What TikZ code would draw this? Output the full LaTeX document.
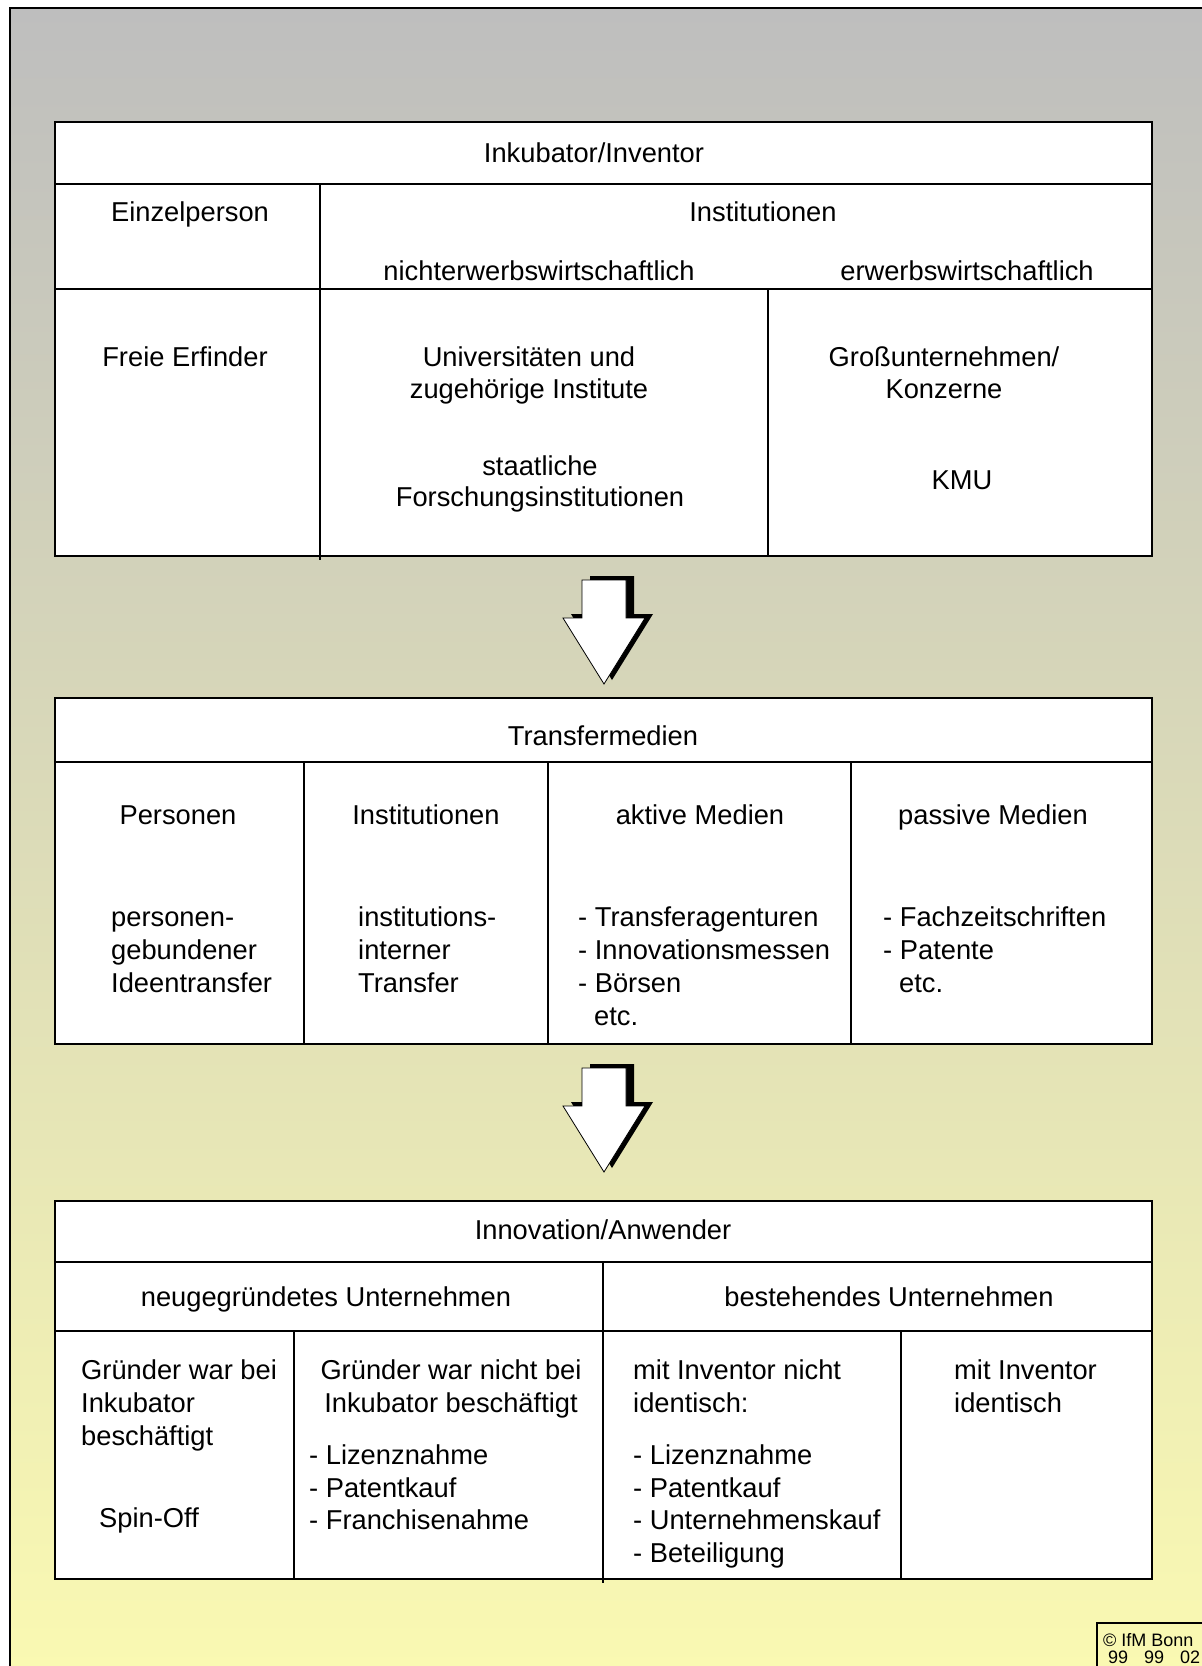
\documentclass[tikz,border=0pt]{standalone}
\usepackage{fontspec}
\setmainfont{Liberation Sans}
\definecolor{bgtop}{RGB}{190,190,190}
\definecolor{bgbot}{RGB}{250,249,178}
\begin{document}
\begin{tikzpicture}[x=1pt,y=-1pt,
  tbl/.style={draw=black,line width=2pt,fill=white},
  ln/.style={draw=black,line width=2pt},
  txt/.style={inner sep=0pt,anchor=base,font=\fontsize{27.3}{32}\selectfont},
  txtl/.style={txt,anchor=base west},
  smalltxt/.style={inner sep=0pt,anchor=base west,font=\fontsize{18}{20}\selectfont},
  bigarrow/.pic={
    \fill[black] (-14,-4) -- (30,-4) -- (30,34) -- (49,34) -- (8,100) -- (-33,34) -- (-14,34) -- cycle;
    \filldraw[fill=white,draw=black,line width=0.8pt] (-22,0) -- (22,0) -- (22,38) -- (41,38) -- (0,104) -- (-41,38) -- (-22,38) -- cycle;
  }]
\useasboundingbox (0,0) rectangle (1202,1666);
\fill[white] (0,0) rectangle (1202,1666);
\shade[top color=bgtop,bottom color=bgbot] (10,8) rectangle (1210,1670);
\draw[line width=2.5pt] (10,1680) -- (10,8) -- (1215,8);

% Table 1
\draw[tbl] (55,122) rectangle (1152,556);
\draw[ln] (55,184) -- (1152,184);
\draw[ln] (55,289) -- (1152,289);
\draw[ln] (320,184) -- (320,560);
\draw[ln] (768,289) -- (768,556);

\node[txt] (t1h) at (594,162) {Inkubator/Inventor};
\node[txt] (t1a) at (190,221) {Einzelperson};
\node[txt] (t1b) at (763,221) {Institutionen};
\node[txt] (t1c) at (539,280) {nichterwerbswirtschaftlich};
\node[txt] (t1d) at (967,280) {erwerbswirtschaftlich};
\node[txt] (t1e) at (185,366) {Freie Erfinder};
\node[txt] (t1f1) at (529,366) {Universitäten und};
\node[txt] (t1f2) at (529,398) {zugehörige Institute};
\node[txt] (t1g1) at (540,475) {staatliche};
\node[txt] (t1g2) at (540,506) {Forschungsinstitutionen};
\node[txt] (t1i1) at (944,366) {Großunternehmen/};
\node[txt] (t1i2) at (944,398) {Konzerne};
\node[txt] (t1k) at (962,489) {KMU};

% Arrow 1
\pic (arrA) at (604,580) {bigarrow};

% Table 2
\draw[tbl] (55,698) rectangle (1152,1044);
\draw[ln] (55,762) -- (1152,762);
\draw[ln] (304,762) -- (304,1044);
\draw[ln] (548,762) -- (548,1044);
\draw[ln] (851,762) -- (851,1044);

\node[txt] (t2h) at (603,745) {Transfermedien};
\node[txt] (t2a) at (178,824) {Personen};
\node[txt] (t2b) at (426,824) {Institutionen};
\node[txt] (t2c) at (700,824) {aktive Medien};
\node[txt] (t2d) at (993,824) {passive Medien};

\node[txtl] (t2a1) at (111,926) {personen-};
\node[txtl] (t2a2) at (111,959) {gebundener};
\node[txtl] (t2a3) at (111,992) {Ideentransfer};
\node[txtl] (t2b1) at (358,926) {institutions-};
\node[txtl] (t2b2) at (358,959) {interner};
\node[txtl] (t2b3) at (358,992) {Transfer};
\node[txtl] (t2c1) at (578,926) {- Transferagenturen};
\node[txtl] (t2c2) at (578,959) {- Innovationsmessen};
\node[txtl] (t2c3) at (578,992) {- Börsen};
\node[txtl] (t2c4) at (594,1025) {etc.};
\node[txtl] (t2d1) at (883,926) {- Fachzeitschriften};
\node[txtl] (t2d2) at (883,959) {- Patente};
\node[txtl] (t2d3) at (899,992) {etc.};

% Arrow 2
\pic (arrB) at (604,1068) {bigarrow};

% Table 3
\draw[tbl] (55,1201) rectangle (1152,1579);
\draw[ln] (55,1262) -- (1152,1262);
\draw[ln] (55,1331) -- (1152,1331);
\draw[ln] (603,1262) -- (603,1583);
\draw[ln] (294,1331) -- (294,1579);
\draw[ln] (901,1331) -- (901,1579);

\node[txt] (t3h) at (603,1239) {Innovation/Anwender};
\node[txt] (t3a) at (326,1306) {neugegründetes Unternehmen};
\node[txt] (t3b) at (889,1306) {bestehendes Unternehmen};

\node[txtl] (t3c1) at (81,1379) {Gründer war bei};
\node[txtl] (t3c2) at (81,1412) {Inkubator};
\node[txtl] (t3c3) at (81,1445) {beschäftigt};
\node[txtl] (t3c4) at (99,1527) {Spin-Off};

\node[txt] (t3d1) at (451,1379) {Gründer war nicht bei};
\node[txt] (t3d2) at (451,1412) {Inkubator beschäftigt};
\node[txtl] (t3d3) at (309,1464) {- Lizenznahme};
\node[txtl] (t3d4) at (309,1497) {- Patentkauf};
\node[txtl] (t3d5) at (309,1529) {- Franchisenahme};

\node[txtl] (t3e1) at (633,1379) {mit Inventor nicht};
\node[txtl] (t3e2) at (633,1412) {identisch:};
\node[txtl] (t3e3) at (633,1464) {- Lizenznahme};
\node[txtl] (t3e4) at (633,1497) {- Patentkauf};
\node[txtl] (t3e5) at (633,1529) {- Unternehmenskauf};
\node[txtl] (t3e6) at (633,1562) {- Beteiligung};

\node[txtl] (t3f1) at (954,1379) {mit Inventor};
\node[txtl] (t3f2) at (954,1412) {identisch};

% Copyright box
\draw[line width=2pt] (1097,1680) -- (1097,1623) -- (1215,1623);
\node[smalltxt] (cr1) at (1103,1646) {© IfM Bonn};
\node[smalltxt] (cr2) at (1108,1663) {99\hspace{16pt}99\hspace{16pt}02};
\end{tikzpicture}
\end{document}
